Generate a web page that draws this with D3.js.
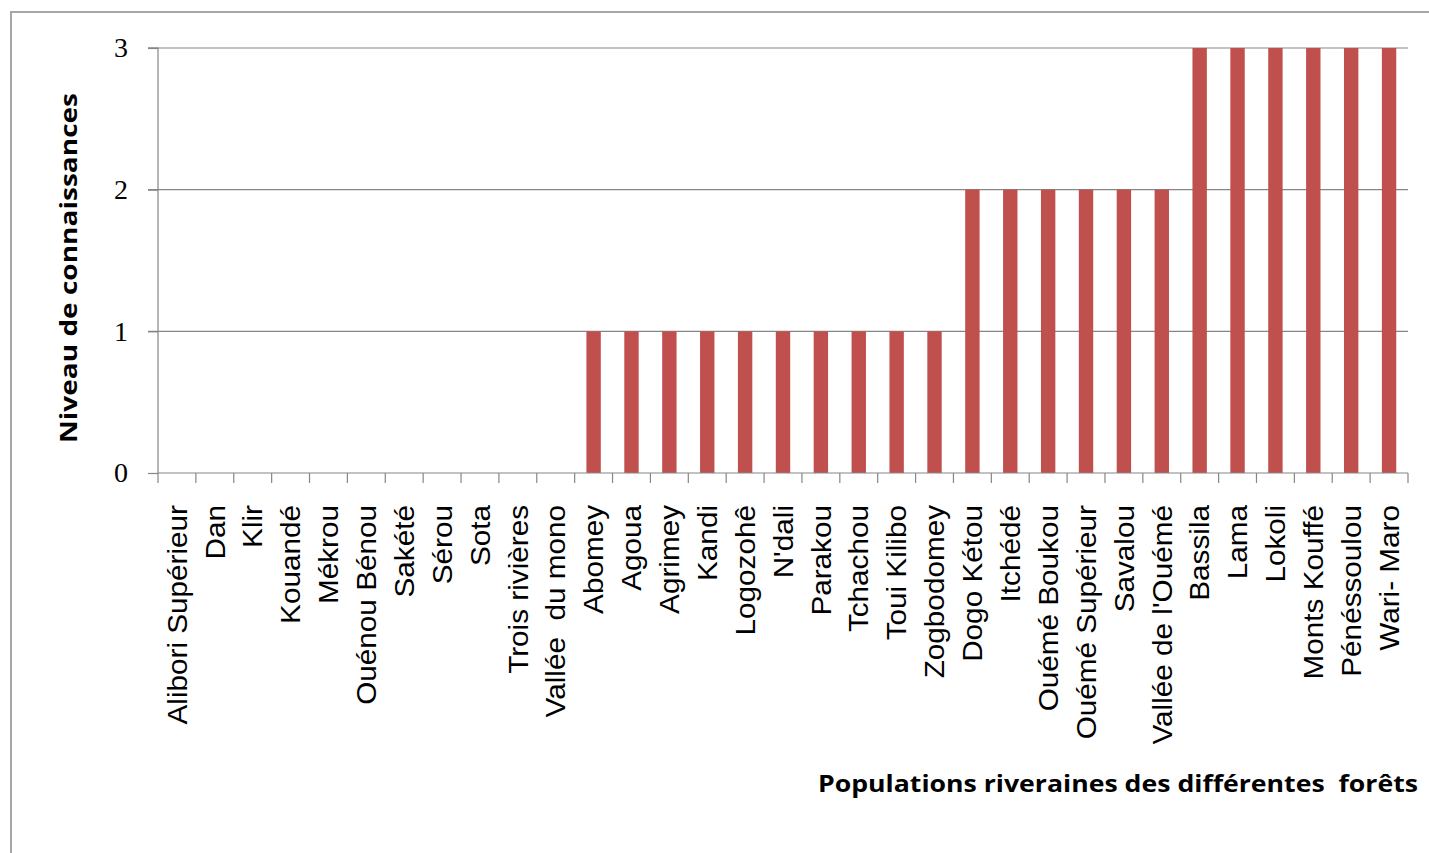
<!DOCTYPE html>
<html>
<head>
<meta charset="utf-8">
<script src="https://cdn.jsdelivr.net/npm/d3@7"></script>
<style>
  html, body { margin: 0; padding: 0; background: #fff; overflow: hidden; }
  svg { display: block; }
</style>
</head>
<body>
<svg id="chart" width="1429" height="853"></svg>
<script>
const categories = [
  "Alibori Supérieur", "Dan", "Klir", "Kouandé", "Mékrou", "Ouénou Bénou",
  "Sakété", "Sérou", "Sota", "Trois rivières", "Vallée  du mono",
  "Abomey", "Agoua", "Agrimey", "Kandi", "Logozohê", "N'dali", "Parakou",
  "Tchachou", "Toui Kilibo", "Zogbodomey",
  "Dogo Kétou", "Itchédé", "Ouémé Boukou", "Ouémé Supérieur", "Savalou", "Vallée de l'Ouémé",
  "Bassila", "Lama", "Lokoli", "Monts Kouffé", "Pénéssoulou", "Wari- Maro"
];
const values = [
  0, 0, 0, 0, 0, 0, 0, 0, 0, 0, 0,
  1, 1, 1, 1, 1, 1, 1, 1, 1, 1,
  2, 2, 2, 2, 2, 2,
  3, 3, 3, 3, 3, 3
];
const yTicks = [0, 1, 2, 3];
const yTitle = "Niveau de connaissances";
const xTitle = "Populations riveraines des différentes  forêts";

(function () {
const svg = d3.select("#chart");
const pLeft = 158, pRight = 1408, pTop = 48, pBottom = 473;

// outer chart border (extends beyond the visible window on right/bottom)
svg.append("rect")
  .attr("x", 11).attr("y", 12).attr("width", 1500).attr("height", 900)
  .attr("fill", "none").attr("stroke", "#a6a6a6").attr("stroke-width", 2);

const x = d3.scaleBand().domain(categories).range([pLeft, pRight]).paddingInner(0).paddingOuter(0);
const y = d3.scaleLinear().domain([0, 3]).range([pBottom, pTop]);

// gridlines
svg.append("g").selectAll("line").data(yTicks.filter(d => d > 0)).join("line")
  .attr("x1", pLeft - 10).attr("x2", pRight)
  .attr("y1", d => y(d)).attr("y2", d => y(d))
  .attr("stroke", "#868686").attr("stroke-width", 1.2);

// bars
const bw = x.bandwidth() * 0.38;
svg.append("g").selectAll("rect").data(values).join("rect")
  .attr("x", (d, i) => x(categories[i]) + x.bandwidth() / 2 - bw / 2)
  .attr("width", bw)
  .attr("y", d => y(d))
  .attr("height", d => y(0) - y(d))
  .attr("fill", "#C0504D");

// y axis
const yAxis = d3.axisLeft(y).tickValues(yTicks).tickSize(10).tickFormat(d3.format("d"));
const gy = svg.append("g").attr("transform", `translate(${pLeft},0)`).call(yAxis);
gy.select(".domain").attr("stroke", "#868686").attr("stroke-width", 1.2).attr("d", `M-10,${pTop}H0V${pBottom}`);
gy.selectAll(".tick line").attr("stroke", "#868686").attr("stroke-width", 1.2);
gy.selectAll(".tick text")
  .attr("x", -30).attr("dy", "0.32em")
  .attr("font-family", "'Liberation Serif', 'DejaVu Serif', serif")
  .attr("font-size", 28).attr("fill", "#000");

// x axis (ticks at band boundaries)
svg.append("line").attr("x1", pLeft).attr("x2", pRight).attr("y1", pBottom).attr("y2", pBottom)
  .attr("stroke", "#868686").attr("stroke-width", 1.2);
const bounds = categories.map(c => x(c)).concat([pRight]);
svg.append("g").selectAll("line").data(bounds).join("line")
  .attr("x1", d => d).attr("x2", d => d)
  .attr("y1", pBottom).attr("y2", pBottom + 10)
  .attr("stroke", "#868686").attr("stroke-width", 1.2);

// category labels
svg.append("g").selectAll("text").data(categories).join("text")
  .attr("transform", d => `translate(${x(d) + x.bandwidth() / 2},505) rotate(-90) scale(1.1,1)`)
  .attr("text-anchor", "end")
  .attr("dy", "0.36em")
  .attr("font-family", "'Liberation Sans', Arial, sans-serif")
  .attr("font-size", 27)
  .attr("fill", "#000")
  .style("white-space", "pre")
  .text(d => d);

// axis titles
svg.append("text")
  .attr("transform", `translate(77,268) rotate(-90)`)
  .attr("text-anchor", "middle")
  .attr("font-family", "'Open Sans', 'Noto Sans', sans-serif")
  .attr("font-weight", "bold")
  .attr("font-size", 24)
  .attr("textLength", 350).attr("lengthAdjust", "spacingAndGlyphs")
  .attr("fill", "#000")
  .text(yTitle);

svg.append("text")
  .attr("x", 1418).attr("y", 792)
  .attr("text-anchor", "end")
  .attr("font-family", "'Open Sans', 'Noto Sans', sans-serif")
  .attr("font-weight", "bold")
  .attr("font-size", 24)
  .attr("textLength", 600).attr("lengthAdjust", "spacingAndGlyphs")
  .attr("fill", "#000")
  .style("white-space", "pre")
  .text(xTitle);
})();
</script>
</body>
</html>
